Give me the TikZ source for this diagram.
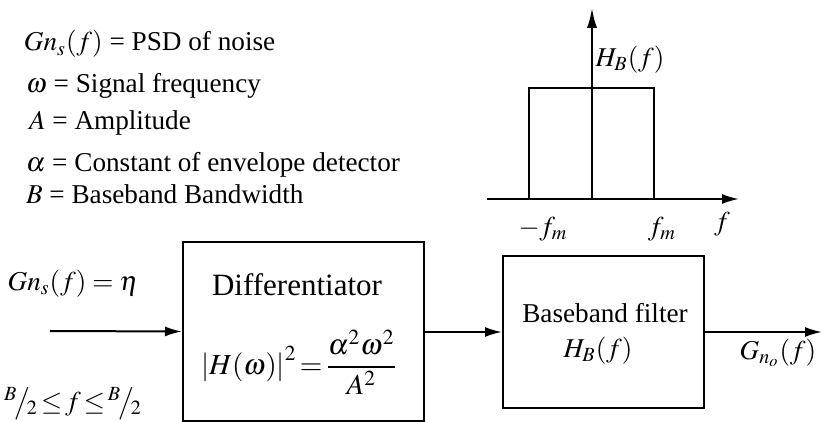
\documentclass[tikz,border=0pt]{standalone}
\usepackage{mathptmx}
\usepackage{fontspec}
\setmainfont{Liberation Serif}
\usetikzlibrary{arrows.meta}
\begin{document}
\begin{tikzpicture}
[x=0.5pt,y=-0.5pt,line width=1pt,>={Latex[length=8.5pt,width=5pt]},every node/.style={inner sep=0pt,font=\fontsize{13.6}{16}\selectfont},legend/.style={anchor=base west},block/.style={draw,line width=1pt},big/.style={font=\fontsize{15.5}{18}\selectfont},]
\useasboundingbox (0,0) rectangle (830,422);
\node[legend] (psd) at (23,51) {$Gn_s(f)$ = PSD of noise};
\node[legend] (omega) at (25,93) {$\omega$ = Signal frequency};
\node[legend] (amp) at (28,130) {$A$ = Amplitude};
\node[legend] (alpha) at (25,172) {$\alpha$ = Constant of envelope detector};
\node[legend] (band) at (25,204) {$B$ = Baseband Bandwidth};
\coordinate (org) at (592,199);
\coordinate (ytop) at (592,8);
\coordinate (xl) at (487,199);
\coordinate (xr) at (739,199);
\coordinate (fl) at (529,199);
\coordinate (fh) at (654,88);
\draw[->,>={Latex[length=10pt,width=5pt]}] (org) -- (ytop);
\draw[->] (xl) -- (xr);
\draw (fl) rectangle (fh);
\node (hb) at (630,60) {$H_B(f)$};
\node (nfm) at (543,229) {$-f_m$};
\node (fm) at (662,229) {$f_m$};
\node (fx) at (722,224) {$f$};
\node[block,minimum width=120.5pt,minimum height=89.5pt] (diff) at (303.5,331.5) {};
\node[big] (difft) at (297,285) {Differentiator};
\node[font=\fontsize{14.5}{17}\selectfont] (diffh) at (299,362) {$\displaystyle\left|H(\omega)\right|^2\!=\!\frac{\alpha^2\omega^2}{A^2}$};
\node[block,minimum width=100.5pt,minimum height=76pt] (filt) at (603.5,332) {};
\node (filtt) at (605,313) {Baseband filter};
\node (filth) at (598,351) {$H_B(f)$};
\coordinate (in) at (50,331);
\draw[->] (in) -- (diff.west);
\node (gin) at (73,284) {$Gn_s(f)=\eta$};
\node (lim) at (73,404) {${}^{B}\!\big/\!{}_{2}\!\le\! f\!\le\!{}^{B}\!\big/\!{}_{2}$};
\draw[->] (filt.west -| diff.east) -- (filt.west);
\coordinate (out) at (822,332);
\draw[->] (filt.east) -- (out);
\node (gout) at (778,353) {$G_{n_o}(f)$};
\end{tikzpicture}
\end{document}
